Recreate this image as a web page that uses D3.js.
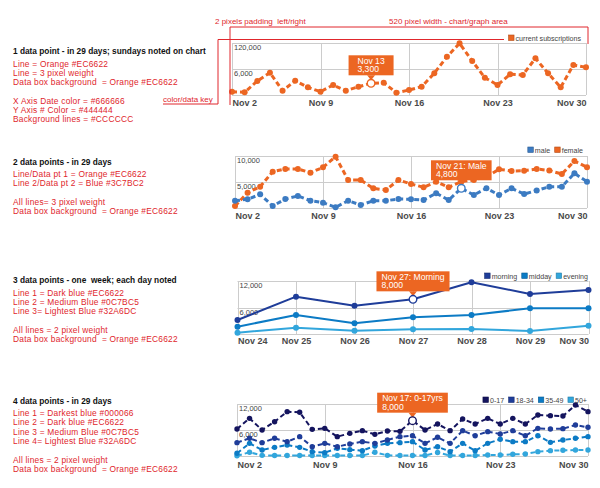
<!DOCTYPE html>
<html><head><meta charset="utf-8">
<script src="https://cdn.jsdelivr.net/npm/d3@7"></script>
<style>
html,body{margin:0;padding:0;background:#fff;}
svg text{font-family:"Liberation Sans",Arial,Helvetica,sans-serif;white-space:pre;}
</style></head><body>
<svg id="c" width="600" height="488"></svg>
<script>
// ---------- DATA ----------
const monthDays = ["Nov 2","Nov 3","Nov 4","Nov 5","Nov 6","Nov 7","Nov 8","Nov 9","Nov 10","Nov 11","Nov 12","Nov 13","Nov 14","Nov 15","Nov 16","Nov 17","Nov 18","Nov 19","Nov 20","Nov 21","Nov 22","Nov 23","Nov 24","Nov 25","Nov 26","Nov 27","Nov 28","Nov 29","Nov 30"];
const monthTicks = ["Nov 2","Nov 9","Nov 16","Nov 23","Nov 30"];
const weekDays = ["Nov 24","Nov 25","Nov 26","Nov 27","Nov 28","Nov 29","Nov 30"];

const subscriptions = [760,620,3230,5150,990,3300,1780,760,2310,990,1900,2700,2840,530,1150,1920,5010,8840,11930,7850,3990,2310,4780,4620,8470,5010,1780,6920,6390];
const male   = [1400,1670,2630,380,1730,2310,1400,1020,130,1400,580,1400,1400,1730,1670,1540,2830,1540,3790,2500,3790,2500,3790,2690,3370,4100,4100,6670,5060];
const female = [385,2940,4100,6990,7500,7500,6790,7820,9870,5380,5380,3790,3460,5380,4620,3980,5060,3980,5060,5380,6020,7440,7120,7170,7500,7200,6540,9040,7820];

const morning = [3170,8450,6410,7850,11700,9060,9960];
const midday  = [1660,4300,2420,3770,4300,5810,5810];
const evening = [300,1430,750,1060,1130,680,1890];

const age0to17  = [6230,8690,6000,7920,10230,10080,6150,6380,4460,5230,5850,5000,5770,5690,8150,6000,7380,5850,8540,7380,8690,7380,8690,7380,9460,9310,9230,11770,10230];
const age18to34 = [3080,4080,3080,4080,3310,4460,2150,2920,2150,2770,3310,2920,3690,4460,4690,2920,4310,2920,5850,4690,5620,5080,5850,4690,6380,6230,6310,7150,6620];
const age35to49 = [620,2920,1380,2000,2540,2000,1000,770,1770,1460,1230,2310,2920,3080,3310,1380,2150,1000,2920,1230,2920,3850,3310,3310,4690,3150,3690,4080,4460];
const age50plus = [50,850,150,100,100,100,100,100,100,100,100,850,150,100,100,100,800,100,100,100,230,230,390,460,1000,1230,1310,1380,1380];

const yTicks1 = [6000, 12000], yTickLabels1 = ["6,000","120,000"];
const yTicks2 = [5000, 10000], yTickLabels2 = ["5,000","10,000"];
const yTicks3 = [6000, 12000], yTickLabels3 = ["6,000","12,000"];
const yTicks4 = [6000, 12000], yTickLabels4 = ["6,000","12,000"];

const notes1 = {title:"1 data point - in 29 days; sundays noted on chart", lines:["Line = Orange #EC6622","Line = 3 pixel weight","Data box background  = Orange #EC6622","","X Axis Date color = #666666","Y Axis # Color = #444444","Background lines = #CCCCCC"]};
const notes2 = {title:"2 data points - in 29 days", lines:["Line/Data pt 1 = Orange #EC6622","Line 2/Data pt 2 = Blue #3C7BC2","","All lines= 3 pixel weight","Data box background  = Orange #EC6622"]};
const notes3 = {title:"3 data points - one  week; each day noted", lines:["Line 1 = Dark blue #EC6622","Line 2 = Medium Blue #0C7BC5","Line 3= Lightest Blue #32A6DC","","All lines = 2 pixel weight","Data box background  = Orange #EC6622"]};
const notes4 = {title:"4 data points - in 29 days", lines:["Line 1 = Darkest blue #000066","Line 2 = Dark blue #EC6622","Line 3 = Medium Blue #0C7BC5","Line 4= Lightest Blue #32A6DC","","All lines = 2 pixel weight","Data box background  = Orange #EC6622"]};

// ---------- STYLE ----------
const ORANGE = "#EC6622", BLUE = "#3C7BC2", NAVY = "#14145e", DARKBLUE = "#1f3d99", MEDBLUE = "#0C7BC5", LIGHTBLUE = "#32A6DC";
const RED = "#e0262c", GRID = "#cccccc";
const svg = d3.select("#c");

function drawNotes(n, top) {
  const g = svg.append("g");
  g.append("text").attr("x", 13).attr("y", top).attr("font-size", 8.3).attr("font-weight", "bold").attr("fill", "#111").text(n.title);
  n.lines.forEach((t, i) => {
    if (!t) return;
    g.append("text").attr("x", 13).attr("y", top + 12.5 + i * 9.3).attr("font-size", 8.4)
      .attr("letter-spacing", 0.22).attr("fill", RED).text(t);
  });
}

function drawChart(cfg) {
  const g = svg.append("g");
  const x = d3.scalePoint().domain(cfg.cats).range(cfg.xr);
  const y = d3.scaleLinear().domain([0, cfg.yMax]).range(cfg.yr);
  const grid = [0].concat(cfg.yTicks);
  g.selectAll(null).data(grid).join("line")
    .attr("x1", cfg.xr[0]).attr("x2", cfg.xr[1])
    .attr("y1", d => Math.round(y(d)) + 0.5).attr("y2", d => Math.round(y(d)) + 0.5)
    .attr("stroke", GRID).attr("stroke-width", 1);
  g.selectAll(null).data(cfg.xTicks).join("line")
    .attr("x1", d => Math.round(x(d)) + 0.5).attr("x2", d => Math.round(x(d)) + 0.5)
    .attr("y1", y(cfg.yMax)).attr("y2", cfg.yr[0])
    .attr("stroke", GRID).attr("stroke-width", 1);
  cfg.yTicks.forEach((v, i) => {
    g.append("text").attr("x", cfg.xr[0] + 2).attr("y", y(v) + 7)
      .attr("font-size", 7.5).attr("fill", "#444").text(cfg.yTickLabels[i]);
  });
  const ax = g.append("g").attr("transform", `translate(0,${cfg.yr[0]})`)
    .call(d3.axisBottom(x).tickValues(cfg.xTicks).tickSize(0).tickPadding(cfg.pad));
  ax.select(".domain").remove();
  ax.selectAll("text").attr("font-size", 9).attr("font-weight", "bold").attr("fill", "#4a4a4a")
    .attr("font-family", '"Liberation Sans",Arial,sans-serif');
  ax.selectAll(".tick").filter((d, i) => i === 0).select("text").attr("text-anchor", "start");
  ax.selectAll(".tick").filter((d, i, n) => i === n.length - 1).select("text").attr("text-anchor", "end");

  const line = d3.line().x((d, i) => x(cfg.cats[i])).y(d => y(d));
  cfg.series.slice().reverse().forEach(s => {
    g.append("path").datum(s.values).attr("d", line).attr("fill", "none")
      .attr("stroke", s.color).attr("stroke-width", cfg.lw)
      .attr("stroke-dasharray", cfg.dash || null).attr("stroke-linejoin", "round");
    g.selectAll(null).data(s.values).join("circle")
      .attr("cx", (d, i) => x(cfg.cats[i])).attr("cy", d => y(d)).attr("r", cfg.r).attr("fill", s.color);
  });

  // legend, right aligned
  const lg = g.append("g");
  let cursor = cfg.xr[1] - cfg.legendInset;
  cfg.series.slice().reverse().forEach(s => {
    const t = lg.append("text").attr("y", cfg.legendY + 2.6).attr("font-size", 7.1).attr("fill", "#444").text(s.name);
    const w = t.node().getComputedTextLength();
    t.attr("x", cursor - w);
    lg.append("rect").attr("x", cursor - w - 7).attr("y", cfg.legendY - 3).attr("width", 5.5).attr("height", 5.5)
      .attr("fill", s.color).attr("stroke", d3.color(s.color).darker(0.8)).attr("stroke-width", 0.6);
    cursor = cursor - w - 7 - 4.5;
  });

  // tooltip
  const tt = cfg.tip;
  const s = cfg.series[tt.series];
  const px = x(cfg.cats[tt.index]), py = y(s.values[tt.index]);
  const tg = g.append("g");
  const bottom = py - 8, top = bottom - 20;
  const box = tg.append("rect").attr("y", top).attr("height", 20).attr("fill", ORANGE);
  tg.append("path").attr("d", `M${px - 4},${bottom} L${px + 4},${bottom} L${px},${py - 3} Z`).attr("fill", ORANGE);
  const t1 = tg.append("text").attr("y", top + 8.5).attr("font-size", 8.6).attr("fill", "#fff").text(tt.lines[0]);
  const t2 = tg.append("text").attr("y", top + 17).attr("font-size", 8.6).attr("fill", "#fff").text(tt.lines[1]);
  const tw = Math.max(t1.node().getComputedTextLength(), t2.node().getComputedTextLength());
  const bw = Math.max(tw + 10, 45);
  box.attr("x", px - bw / 2).attr("width", bw);
  t1.attr("x", px - tw / 2); t2.attr("x", px - tw / 2);
  tg.append("circle").attr("cx", px).attr("cy", py).attr("r", 3.8).attr("fill", "#fff")
    .attr("stroke", s.color).attr("stroke-width", 1.4);
  return {x, y};
}

// ---------- NOTES ----------
drawNotes(notes1, 54);
drawNotes(notes2, 164.5);
drawNotes(notes3, 283);
drawNotes(notes4, 403.5);

// ---------- CHARTS ----------
drawChart({cats: monthDays, xTicks: monthTicks, xr: [232, 586], yr: [95, 43], yMax: 12000,
  yTicks: yTicks1, yTickLabels: yTickLabels1, pad: 5, lw: 3, r: 3, dash: "5,3", legendY: 38, legendInset: 5,
  series: [{name: "current subscriptions", values: subscriptions, color: ORANGE}],
  tip: {series: 0, index: 11, lines: ["Nov 13", "3,300"]}});

drawChart({cats: monthDays, xTicks: monthTicks, xr: [235, 587], yr: [208, 156], yMax: 10000,
  yTicks: yTicks2, yTickLabels: yTickLabels2, pad: 4.5, lw: 3, r: 3, dash: "5,3", legendY: 150, legendInset: 4,
  series: [{name: "male", values: male, color: BLUE}, {name: "female", values: female, color: ORANGE}],
  tip: {series: 0, index: 18, lines: ["Nov 21: Male", "4,800"]}});

drawChart({cats: weekDays, xTicks: weekDays, xr: [237.5, 588.5], yr: [334, 281], yMax: 12000,
  yTicks: yTicks3, yTickLabels: yTickLabels3, pad: 3.6, lw: 2, r: 3, dash: null, legendY: 276, legendInset: 0.5,
  series: [{name: "morning", values: morning, color: DARKBLUE}, {name: "midday", values: midday, color: MEDBLUE}, {name: "evening", values: evening, color: LIGHTBLUE}],
  tip: {series: 0, index: 3, lines: ["Nov 27: Morning", "8,000"]}});

drawChart({cats: monthDays, xTicks: monthTicks, xr: [237, 588], yr: [456, 404], yMax: 12000,
  yTicks: yTicks4, yTickLabels: yTickLabels4, pad: 5.5, lw: 2, r: 2.7, dash: "5,3", legendY: 400, legendInset: 1,
  series: [{name: "0-17", values: age0to17, color: NAVY}, {name: "18-34", values: age18to34, color: DARKBLUE}, {name: "35-49", values: age35to49, color: MEDBLUE}, {name: "50+", values: age50plus, color: LIGHTBLUE}],
  tip: {series: 0, index: 14, lines: ["Nov 17: 0-17yrs", "8,000"]}});

// ---------- RED ANNOTATIONS (chart 1) ----------
const an = svg.append("g");
an.append("text").attr("x", 215).attr("y", 23.5).attr("font-size", 8).attr("fill", RED).text("2 pixels padding  left/right");
an.append("text").attr("x", 389).attr("y", 23.5).attr("font-size", 8).attr("fill", RED).text("520 pixel width - chart/graph area");
an.append("path").attr("d", "M230,105 L230,27 L588,27 L588,44").attr("fill", "none").attr("stroke", RED).attr("stroke-width", 1);
an.append("text").attr("x", 163).attr("y", 101.5).attr("font-size", 8).attr("fill", RED).text("color/data key");
an.append("path").attr("d", "M163,104 L218,104 L218,39.5 L504,39.5").attr("fill", "none").attr("stroke", RED).attr("stroke-width", 1);
</script>
</body></html>
